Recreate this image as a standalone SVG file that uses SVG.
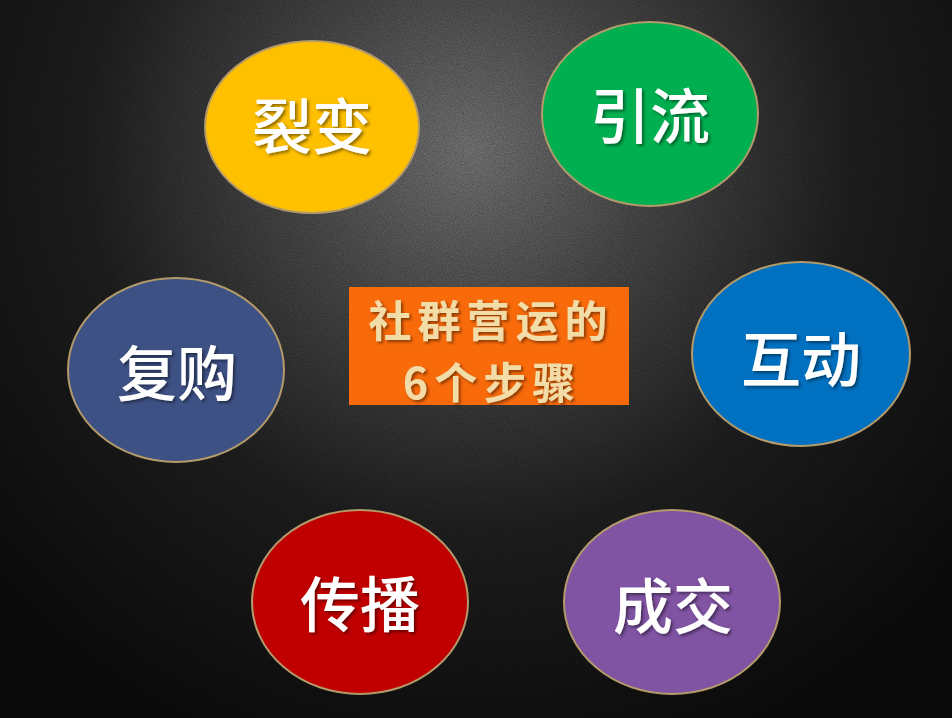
<svg xmlns="http://www.w3.org/2000/svg" width="952" height="718" viewBox="0 0 952 718">
<defs>
<radialGradient id="bg" cx="470" cy="150" r="640" gradientUnits="userSpaceOnUse">
<stop offset="0" stop-color="#7a7a7a"/>
<stop offset="0.28" stop-color="#4c4c4c"/>
<stop offset="0.6" stop-color="#202020"/>
<stop offset="1" stop-color="#0c0c0c"/>
</radialGradient>
<filter id="grain" x="0" y="0" width="100%" height="100%">
<feTurbulence type="fractalNoise" baseFrequency="0.9" numOctaves="2" seed="3" result="n"/>
<feColorMatrix in="n" type="matrix" values="0 0 0 0 0  0 0 0 0 0  0 0 0 0 0  0 0 0 0.45 -0.08" result="a"/>
<feComposite in="a" in2="SourceGraphic" operator="in"/>
</filter>
<filter id="ts" x="-20%" y="-20%" width="140%" height="140%">
<feDropShadow dx="2" dy="2" stdDeviation="1.5" flood-color="#000" flood-opacity="0.45"/>
</filter>
</defs>
<style>
.node ellipse{stroke:#b39a6a;stroke-width:2}
.lbl{font-family:"Noto Sans CJK SC","Noto Sans CJK TC",sans-serif;font-size:60px;font-weight:500;fill:#ffffff;text-anchor:middle;dominant-baseline:central;filter:url(#ts)}
.ctr{font-family:"Noto Sans CJK SC","Liberation Sans",sans-serif;font-size:43px;font-weight:700;letter-spacing:6px;fill:#f2dca8;text-anchor:middle;dominant-baseline:central;filter:url(#ts)}
</style>
<rect width="952" height="718" fill="url(#bg)"/>
<rect width="952" height="718" fill="#000" filter="url(#grain)"/>
<g id="connectors"/>
<g id="node-liebian" class="node">
<ellipse cx="312" cy="127" rx="107" ry="86" fill="#ffc000"/>
<text class="lbl" x="312" y="122">裂变</text>
</g>
<g id="node-yinliu" class="node">
<ellipse cx="650" cy="114" rx="108" ry="92" fill="#00b050"/>
<text class="lbl" x="650" y="112">引流</text>
</g>
<g id="node-hudong" class="node">
<ellipse cx="801" cy="354" rx="109" ry="92" fill="#0070c0"/>
<text class="lbl" x="801" y="355">互动</text>
</g>
<g id="node-fugou" class="node">
<ellipse cx="176" cy="370" rx="108" ry="92" fill="#3e5185"/>
<text class="lbl" x="177" y="369">复购</text>
</g>
<g id="node-chuanbo" class="node">
<ellipse cx="360" cy="602" rx="108" ry="92" fill="#c00000"/>
<text class="lbl" x="360" y="600">传播</text>
</g>
<g id="node-chengjiao" class="node">
<ellipse cx="672" cy="602" rx="108" ry="92" fill="#8053a3"/>
<text class="lbl" x="673" y="602">成交</text>
</g>
<g id="node-center">
<rect x="349" y="287" width="280" height="118" fill="#f96a0a"/>
<text class="ctr" x="491" y="318">社群营运的</text>
<text class="ctr" x="492" y="380">6个步骤</text>
</g>
</svg>
